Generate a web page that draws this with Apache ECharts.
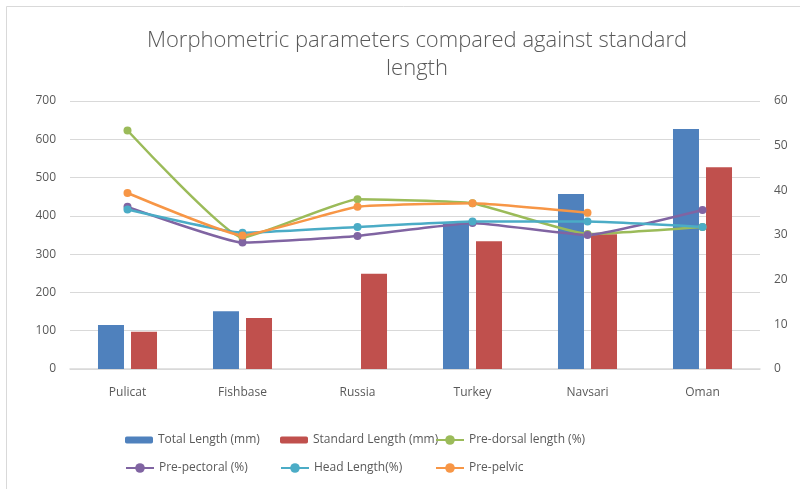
<!DOCTYPE html>
<html><head><meta charset="utf-8">
<script src="https://cdn.jsdelivr.net/npm/echarts@6/dist/echarts.min.js"></script>
<style>html,body{margin:0;padding:0;background:#fff}#c{width:800px;height:489px}</style>
</head><body><div id="c"></div>
<script>
const categories = ['Pulicat','Fishbase','Russia','Turkey','Navsari','Oman'];
const totalLength = [115, 151, null, 381, 457, 627];
const standardLength = [97, 133, 249, 334, 352, 527];
const preDorsal = [53.4, 29.4, 38.0, 37.1, 30.2, 31.8];
const prePectoral = [36.3, 28.3, 29.8, 32.7, 30.0, 35.6];
const headLength = [35.7, 30.5, 31.8, 33.0, 33.0, 31.8];
const prePelvic = [39.4, 29.9, 36.3, 37.1, 35.0, null];
const leftTicks = {min:0, max:700, interval:100};
const rightTicks = {min:0, max:60, interval:10};

const FONT = 'Open Sans';
const TXT = '#595959';
const names = ['Total Length (mm)','Standard Length (mm)','Pre-dorsal length (%)','Pre-pectoral (%)','Head Length(%)','Pre-pelvic'];
const colors = ['#4F81BD','#C0504D','#9BBB59','#8064A2','#4BACC6','#F79646'];

function lineSeries(i, data){
  return {name:names[i], type:'line', yAxisIndex:1, data:data, smooth:0.12,
    symbol:'circle', symbolSize:8, connectNulls:false,
    itemStyle:{color:colors[i]}, lineStyle:{width:2.5, color:colors[i]}, z:5};
}
const legendPos = [[120,429],[275,429],[430,429],[120,457],[275,457],[430,457]];
const legends = names.map((n,i)=>({
  data:[n], left:legendPos[i][0], top:legendPos[i][1], itemWidth:28, itemHeight: i<2?7:12,
  textStyle:{color:TXT, fontFamily:FONT, fontSize:12}, itemGap:0
}));

const chart = echarts.init(document.getElementById('c'), null, {renderer:'canvas'});
chart.setOption({
  animation:false,
  backgroundColor:'#fff',
  title:{text:'Morphometric parameters compared against standard\nlength', left:412, textAlign:'center', top:22,
    textStyle:{fontFamily:FONT, fontWeight:300, fontSize:22, color:TXT, lineHeight:28}},
  graphic:[{type:'rect', shape:{x:6.5,y:6.5,width:800,height:500}, style:{fill:null, stroke:'#d9d9d9', lineWidth:1}, silent:true}],
  legend: legends,
  grid:{left:70, right:40, top:101, bottom:120},
  xAxis:{type:'category', data:categories,
    axisLine:{lineStyle:{color:'#d9d9d9', width:1.5}}, axisTick:{show:false},
    axisLabel:{color:TXT, fontFamily:FONT, fontSize:12, margin:18}},
  yAxis:[
    {type:'value', min:leftTicks.min, max:leftTicks.max, interval:leftTicks.interval,
     axisLine:{show:false}, axisTick:{show:false},
     axisLabel:{color:TXT, fontFamily:FONT, fontSize:12, margin:14},
     splitLine:{lineStyle:{color:'#d9d9d9', width:1}}},
    {type:'value', min:rightTicks.min, max:rightTicks.max, interval:rightTicks.interval,
     axisLine:{show:false}, axisTick:{show:false},
     axisLabel:{color:TXT, fontFamily:FONT, fontSize:12, margin:14},
     splitLine:{show:false}}
  ],
  series:[
    {name:names[0], type:'bar', data:totalLength, barWidth:26, barGap:'27%', itemStyle:{color:colors[0]}},
    {name:names[1], type:'bar', data:standardLength, barWidth:26, barGap:'27%', itemStyle:{color:colors[1]}},
    lineSeries(2, preDorsal),
    lineSeries(3, prePectoral),
    lineSeries(4, headLength),
    lineSeries(5, prePelvic)
  ]
});
</script></body></html>
